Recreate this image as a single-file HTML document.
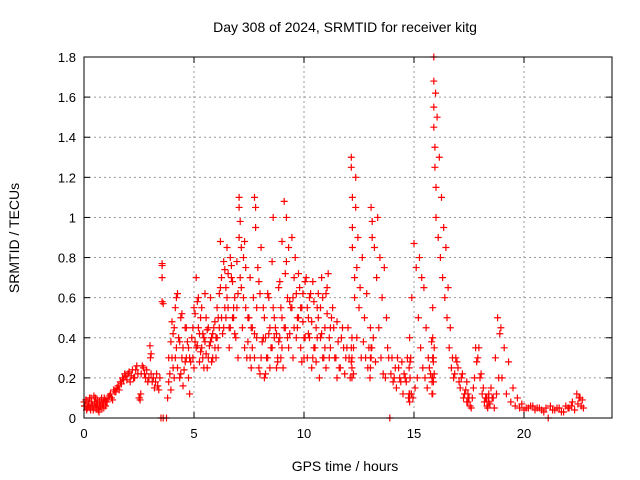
<!DOCTYPE html>
<html><head><meta charset="utf-8"><style>
body{margin:0;background:#fff;}
svg{display:block;font-family:"Liberation Sans",sans-serif;}
</style></head><body>
<svg width="640" height="480">
<g id="grid"></g>
<g id="marks"></g>
<rect x="84" y="57" width="528" height="361" fill="none" stroke="#000" stroke-width="1"/>
<g id="axes"></g>
<text x="345" y="32" text-anchor="middle" font-size="14">Day 308 of 2024, SRMTID for receiver kitg</text>
<text x="345" y="471" text-anchor="middle" font-size="14">GPS time / hours</text>
<text transform="translate(19,238) rotate(-90)" text-anchor="middle" font-size="14">SRMTID / TECUs</text>
</svg>
<script>
const xTicks=[0,5,10,15,20];
const yTicks=[0,0.2,0.4,0.6,0.8,1,1.2,1.4,1.6,1.8];
const hours=[0,0.05,0.1,0.15,0.2,0.25,0.3,0.35,0.4,0.45,0.5,0.55,0.6,0.65,0.7,0.75,0.8,0.85,0.9,0.95,1.0,1.1,1.2,1.3,1.4,1.5,1.6,1.7,1.8,1.9,2.0,2.1,2.2,2.3,2.4,2.5,2.55,2.6,2.7,2.8,2.9,3.0,3.02,3.05,3.1,3.2,3.3,3.4,3.5,3.55,3.55,3.55,3.55,3.6,3.6,3.75,3.8,3.9,3.95,4.0,4.0,4.1,4.1,4.2,4.2,4.25,4.3,4.4,4.4,4.5,4.5,4.6,4.6,4.7,4.8,4.8,4.9,5.0,5.0,5.1,5.1,5.2,5.2,5.3,5.3,5.4,5.4,5.5,5.5,5.6,5.6,5.7,5.8,5.8,5.9,6.0,6.0,6.1,6.1,6.2,6.2,6.3,6.4,6.4,6.5,6.5,6.6,6.6,6.7,6.7,6.8,6.8,6.9,7.0,7.0,7.05,7.05,7.05,7.1,7.1,7.2,7.3,7.3,7.4,7.5,7.6,7.6,7.7,7.75,7.75,7.75,7.8,7.8,7.9,8.0,8.0,8.1,8.2,8.2,8.3,8.4,8.4,8.5,8.6,8.6,8.7,8.8,8.8,8.9,8.9,9.0,9.0,9.0,9.05,9.1,9.1,9.2,9.2,9.3,9.3,9.4,9.5,9.5,9.6,9.7,9.7,9.8,9.9,9.9,10.0,10.0,10.1,10.2,10.2,10.3,10.4,10.4,10.5,10.6,10.6,10.7,10.8,10.8,10.9,11.0,11.0,11.1,11.2,11.2,11.3,11.4,11.5,11.5,11.6,11.7,11.8,11.9,12.0,12.1,12.15,12.15,12.15,12.15,12.2,12.2,12.2,12.3,12.3,12.4,12.4,12.5,12.6,12.7,12.8,12.9,13.0,13.05,13.05,13.05,13.1,13.1,13.2,13.3,13.4,13.5,13.6,13.7,13.8,13.9,14.0,14.1,14.2,14.3,14.4,14.5,14.6,14.7,14.75,14.8,14.8,14.8,14.85,14.9,15.0,15.1,15.2,15.3,15.4,15.5,15.6,15.7,15.8,15.85,15.85,15.85,15.85,15.85,15.9,15.9,15.9,15.9,15.95,15.95,16.0,16.0,16.1,16.2,16.3,16.4,16.5,16.6,16.7,16.8,16.9,17.0,17.1,17.2,17.3,17.4,17.4,17.5,17.6,17.7,17.8,17.9,18.0,18.1,18.2,18.3,18.35,18.4,18.4,18.5,18.6,18.7,18.8,18.9,19.0,19.2,19.4,19.6,19.8,20.0,20.1,20.3,20.5,20.7,20.9,21.1,21.3,21.5,21.7,21.9,22.0,22.2,22.4,22.5,22.6,22.7];
const tecu=[0.08,0.06,0.09,0.05,0.07,0.1,0.04,0.08,0.06,0.11,0.05,0.07,0.09,0.04,0.08,0.06,0.1,0.07,0.05,0.09,0.08,0.1,0.12,0.09,0.13,0.15,0.14,0.17,0.19,0.21,0.22,0.18,0.24,0.2,0.26,0.1,0.09,0.22,0.25,0.2,0.18,0.36,0.3,0.22,0.18,0.15,0.22,0.14,0.0,0.77,0.76,0.7,0.58,0.57,0.0,0.0,0.1,0.22,0.14,0.3,0.48,0.45,0.2,0.6,0.35,0.25,0.4,0.5,0.22,0.35,0.16,0.45,0.28,0.38,0.3,0.12,0.4,0.55,0.25,0.7,0.35,0.45,0.6,0.33,0.5,0.3,0.42,0.62,0.38,0.25,0.44,0.36,0.28,0.4,0.45,0.3,0.4,0.5,0.35,0.65,0.88,0.42,0.55,0.74,0.6,0.85,0.35,0.45,0.7,0.76,0.55,0.5,0.4,0.3,0.62,0.9,1.1,1.05,0.98,0.7,0.45,0.88,0.35,0.3,0.5,0.25,0.45,0.6,0.3,0.42,1.1,1.05,0.95,0.75,0.62,0.22,0.38,0.2,0.5,0.3,0.6,0.42,0.35,1.0,0.55,0.45,0.28,0.3,0.68,0.4,0.35,0.5,0.88,0.25,0.45,1.08,1.0,0.78,0.85,0.35,0.55,0.6,0.3,0.8,0.45,0.5,0.65,0.28,0.55,0.4,0.3,0.7,0.5,0.42,0.62,0.3,0.68,0.35,0.4,0.55,0.2,0.7,0.42,0.3,0.62,0.25,0.72,0.45,0.35,0.55,0.3,0.48,0.2,0.25,0.4,0.35,0.3,0.45,0.2,0.35,0.28,1.3,1.25,1.1,0.95,0.85,0.7,0.6,0.75,0.4,0.55,0.3,0.38,0.3,0.25,0.2,0.3,0.35,1.05,0.98,0.9,0.85,0.7,0.45,0.3,0.22,0.2,0.35,0.0,0.3,0.2,0.15,0.25,0.18,0.12,0.2,0.3,0.1,0.08,0.12,0.4,0.3,0.6,0.87,0.75,0.5,0.35,0.25,0.2,0.15,0.25,0.38,0.2,0.12,0.3,0.4,0.55,1.8,1.68,1.55,1.45,1.35,1.25,1.15,1.0,0.9,0.8,0.7,0.6,0.5,0.35,0.25,0.2,0.3,0.25,0.15,0.22,0.12,0.18,0.08,0.1,0.05,0.15,0.35,0.3,0.2,0.12,0.08,0.1,0.05,0.08,0.12,0.15,0.1,0.3,0.5,0.42,0.2,0.12,0.08,0.06,0.05,0.04,0.05,0.06,0.04,0.05,0.03,0.0,0.04,0.05,0.03,0.06,0.05,0.08,0.12,0.1,0.06,0.05,0.07,0.05,0.06,0.05,0.14,0.1];
const hours2=[0.02,0.08,0.12,0.18,0.22,0.28,0.32,0.38,0.42,0.48,0.52,0.58,0.62,0.68,0.72,0.78,0.82,0.88,0.92,0.98,1.05,1.15,1.25,1.35,1.45,1.55,1.65,1.75,1.85,1.95,2.05,2.15,2.25,2.35,2.45,2.52,2.58,2.65,2.75,2.85,2.95,3.05,3.15,3.25,3.35,3.45,3.85,3.85,3.95,4.05,4.05,4.15,4.15,4.25,4.35,4.35,4.45,4.45,4.55,4.65,4.65,4.75,4.75,4.85,4.95,4.95,5.05,5.05,5.15,5.15,5.25,5.25,5.35,5.35,5.45,5.45,5.55,5.55,5.65,5.65,5.75,5.75,5.85,5.85,5.95,5.95,6.05,6.05,6.15,6.15,6.25,6.25,6.35,6.35,6.45,6.45,6.55,6.55,6.65,6.65,6.75,6.75,6.85,6.85,6.95,6.95,7.15,7.15,7.25,7.25,7.35,7.35,7.45,7.45,7.55,7.55,7.65,7.65,7.85,7.85,7.95,7.95,8.05,8.05,8.15,8.15,8.25,8.25,8.35,8.35,8.45,8.45,8.55,8.55,8.65,8.65,8.75,8.75,8.85,8.85,8.95,8.95,9.15,9.15,9.25,9.25,9.35,9.35,9.45,9.45,9.55,9.55,9.65,9.65,9.75,9.75,9.85,9.85,9.95,9.95,10.05,10.05,10.15,10.15,10.25,10.25,10.35,10.35,10.45,10.45,10.55,10.55,10.65,10.65,10.75,10.75,10.85,10.85,10.95,10.95,11.05,11.05,11.15,11.15,11.25,11.35,11.45,11.55,11.65,11.75,11.85,11.95,12.05,12.18,12.18,12.18,12.18,12.25,12.25,12.35,12.35,12.45,12.55,12.65,12.75,12.85,12.95,13.02,13.02,13.02,13.08,13.15,13.25,13.35,13.45,13.55,13.65,13.75,13.85,13.95,14.05,14.15,14.25,14.35,14.45,14.55,14.65,14.78,14.78,14.82,14.82,14.88,14.95,15.05,15.15,15.25,15.35,15.45,15.55,15.65,15.75,15.82,15.82,15.82,15.88,15.88,15.88,15.92,15.92,15.98,16.05,16.15,16.25,16.35,16.45,16.55,16.65,16.75,16.85,16.95,17.05,17.15,17.25,17.35,17.45,17.45,17.55,17.65,17.75,17.85,17.95,18.05,18.15,18.25,18.32,18.38,18.45,18.55,18.65,18.75,18.85,18.95,19.1,19.3,19.5,19.7,19.9,20.2,20.4,20.6,20.8,21.0,21.2,21.4,21.6,21.8,22.05,22.15,22.3,22.45,22.55,22.65];
const tecu2=[0.06,0.09,0.04,0.08,0.06,0.05,0.1,0.06,0.04,0.08,0.1,0.05,0.07,0.03,0.06,0.09,0.05,0.08,0.1,0.06,0.08,0.11,0.1,0.14,0.13,0.16,0.18,0.2,0.22,0.19,0.23,0.21,0.2,0.24,0.22,0.1,0.12,0.26,0.22,0.24,0.2,0.32,0.2,0.18,0.16,0.2,0.18,0.3,0.38,0.25,0.42,0.55,0.3,0.62,0.2,0.38,0.52,0.3,0.24,0.45,0.3,0.35,0.2,0.28,0.45,0.3,0.52,0.38,0.36,0.58,0.42,0.28,0.55,0.35,0.4,0.25,0.5,0.32,0.45,0.3,0.38,0.6,0.42,0.3,0.48,0.35,0.55,0.4,0.62,0.45,0.7,0.5,0.45,0.78,0.65,0.5,0.72,0.55,0.8,0.45,0.68,0.5,0.6,0.42,0.78,0.55,0.85,0.65,0.8,0.6,0.75,0.55,0.5,0.38,0.7,0.3,0.45,0.35,0.55,0.4,0.68,0.25,0.85,0.3,0.55,0.4,0.22,0.4,0.3,0.62,0.25,0.45,0.35,0.78,0.4,0.5,0.25,0.42,0.65,0.38,0.3,0.55,0.72,0.45,0.4,0.6,0.58,0.42,0.9,0.55,0.7,0.45,0.62,0.4,0.72,0.5,0.55,0.35,0.62,0.48,0.4,0.68,0.55,0.3,0.6,0.4,0.48,0.25,0.58,0.35,0.45,0.28,0.5,0.62,0.4,0.55,0.3,0.6,0.45,0.35,0.52,0.65,0.4,0.3,0.5,0.45,0.3,0.38,0.25,0.45,0.22,0.35,0.3,0.25,0.4,0.2,0.3,0.22,0.35,1.2,1.05,0.9,0.65,0.8,0.5,0.62,0.35,0.45,0.3,0.25,0.35,0.4,0.28,1.0,0.8,0.6,0.75,0.5,0.3,0.22,0.18,0.25,0.3,0.2,0.28,0.22,0.18,0.12,0.25,0.28,0.2,0.12,0.1,0.15,0.2,0.8,0.7,0.65,0.45,0.3,0.22,0.18,0.12,0.2,0.3,0.28,0.18,0.22,0.35,1.62,1.5,1.3,1.1,0.95,0.85,0.65,0.45,0.3,0.22,0.28,0.18,0.2,0.1,0.14,0.12,0.08,0.06,0.1,0.2,0.28,0.35,0.22,0.15,0.1,0.06,0.1,0.07,0.1,0.05,0.12,0.2,0.45,0.35,0.28,0.15,0.1,0.07,0.05,0.06,0.05,0.04,0.05,0.06,0.04,0.05,0.03,0.05,0.06,0.04,0.07,0.1,0.09,0.08,0.06,0.11,0.12];
const NS='http://www.w3.org/2000/svg';
const X0=84,X1=612,Y0=418,Y1=57;
function xs(t){return X0+t*(X1-X0)/24;}
function ys(v){return Y0-v*(Y0-Y1)/1.8;}
const grid=document.getElementById('grid'),axes=document.getElementById('axes'),marks=document.getElementById('marks');
function mk(tag,attrs,parent){const e=document.createElementNS(NS,tag);for(const k in attrs)e.setAttribute(k,attrs[k]);parent.appendChild(e);return e;}
xTicks.forEach(t=>{const x=xs(t);
 if(t>0){const g=mk('line',{x1:x,x2:x,y1:Y0,y2:Y1,stroke:'#999','stroke-dasharray':'2,3'},grid);
 
 }
 const a=mk('line',{x1:x,x2:x,y1:Y0,y2:Y0-6,stroke:'#000'},axes);
 
 
 const b=mk('line',{x1:x,x2:x,y1:Y1,y2:Y1+6,stroke:'#000'},axes);
 
 
 const l=mk('text',{x:x,y:Y0+20,'text-anchor':'middle','font-size':'13'},axes);l.textContent=t;
 
 });
yTicks.forEach(v=>{const y=ys(v);
 if(v>0&&v<1.8){const g=mk('line',{x1:X0,x2:X1,y1:y,y2:y,stroke:'#999','stroke-dasharray':'2,3'},grid);
 
 }
 const a=mk('line',{x1:X0,x2:X0+6,y1:y,y2:y,stroke:'#000'},axes);
 
 
 const b=mk('line',{x1:X1,x2:X1-6,y1:y,y2:y,stroke:'#000'},axes);
 
 
 const l=mk('text',{x:X0-8,y:y+5,'text-anchor':'end','font-size':'13'},axes);l.textContent=(Math.round(v*10)/10).toString();
 
 });
function plot(hs,vs){hs.forEach((t,i)=>{const x=xs(t),y=ys(vs[i]);
 const p=mk('path',{d:`M${x-3.5},${y}H${x+3.5}M${x},${y-3.5}V${y+3.5}`,stroke:'#f00','stroke-width':'1.2',fill:'none'},marks);
 
 });}
plot(hours,tecu);
plot(hours2,tecu2);
</script>
</body></html>
